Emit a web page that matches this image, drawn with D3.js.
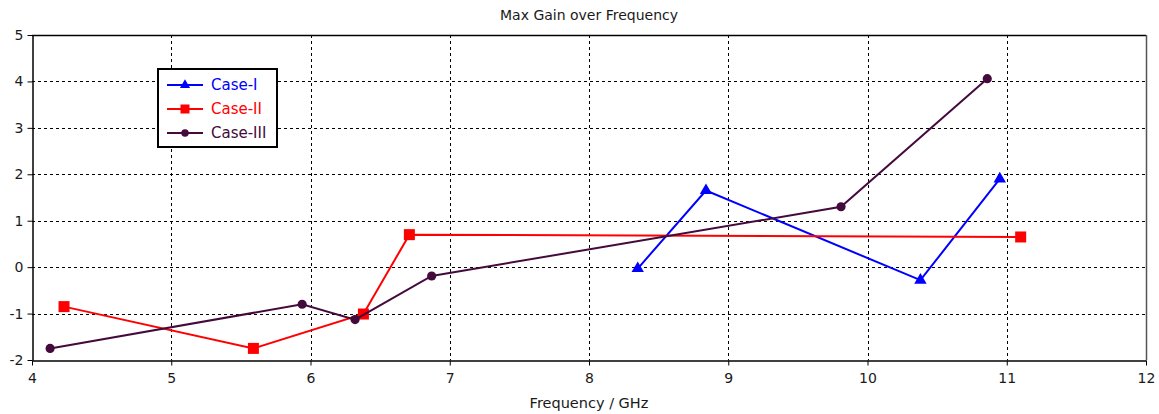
<!DOCTYPE html>
<html>
<head>
<meta charset="utf-8">
<script src="https://cdn.jsdelivr.net/npm/d3@7"></script>
<style>
  html, body { margin: 0; padding: 0; background: #fff; }
  svg { display: block; font-family: "DejaVu Sans", Verdana, sans-serif; }
</style>
</head>
<body>
<svg id="chart" width="1159" height="414"></svg>
<script>
(function() {
  'use strict';

  // Data
  var xTicks = [4, 5, 6, 7, 8, 9, 10, 11, 12];
  var yTicks = [-2, -1, 0, 1, 2, 3, 4, 5];

  var caseIFreq = [8.35, 8.84, 10.38, 10.95];
  var caseIGain = [-0.03, 1.65, -0.28, 1.90];

  var caseIIFreq = [4.23, 5.59, 6.38, 6.71, 11.10];
  var caseIIGain = [-0.85, -1.75, -1.01, 0.70, 0.65];

  var caseIIIFreq = [4.13, 5.94, 6.32, 6.87, 9.81, 10.86];
  var caseIIIGain = [-1.75, -0.80, -1.13, -0.19, 1.30, 4.06];

  var seriesNames = ["Case-I", "Case-II", "Case-III"];
  var seriesColors = ["#0000ff", "#ff0000", "#440a3c"];
  var seriesMarkers = ["triangle", "square", "circle"];

  function zip(xs, ys) {
    return xs.map(function(x, i) { return { x: x, y: ys[i] }; });
  }

  var series = [
    zip(caseIFreq, caseIGain),
    zip(caseIIFreq, caseIIGain),
    zip(caseIIIFreq, caseIIIGain)
  ];

  var margin = { left: 32, top: 35, right: 13, bottom: 54 };
  var width = 1159, height = 414;

  var svg = d3.select("#chart");

  var x = d3.scaleLinear()
    .domain([4, 12])
    .range([margin.left, width - margin.right]);
  var y = d3.scaleLinear()
    .domain([-2, 5])
    .range([height - margin.bottom, margin.top]);

  // grid
  var grid = svg.append("g").attr("class", "grid");
  grid.selectAll("line.vx")
    .data(xTicks.slice(1, -1))
    .enter().append("line")
    .attr("x1", function(d) { return Math.round(x(d)) + 0.5; })
    .attr("x2", function(d) { return Math.round(x(d)) + 0.5; })
    .attr("y1", y(5))
    .attr("y2", y(-2))
    .attr("stroke", "#000")
    .attr("stroke-dasharray", "3,3");
  grid.selectAll("line.hy")
    .data(yTicks.slice(1, -1))
    .enter().append("line")
    .attr("y1", function(d) { return Math.round(y(d)) + 0.5; })
    .attr("y2", function(d) { return Math.round(y(d)) + 0.5; })
    .attr("x1", x(4))
    .attr("x2", x(12))
    .attr("stroke", "#000")
    .attr("stroke-dasharray", "3,3");

  // axes (plain hyphen for negatives, like the original)
  var fmt = function(d) { return String(d); };
  var xAxis = d3.axisBottom(x).tickValues(xTicks).tickSizeInner(5).tickSizeOuter(0)
    .tickFormat(fmt);
  var yAxis = d3.axisLeft(y).tickValues(yTicks).tickSizeInner(5).tickSizeOuter(0)
    .tickFormat(fmt);

  var gx = svg.append("g")
    .attr("transform", "translate(0," + (Math.round(y(-2)) + 0.5) + ")")
    .call(xAxis);
  var gy = svg.append("g")
    .attr("transform", "translate(" + (Math.round(x(4)) + 0.5) + ",0)")
    .call(yAxis);

  [gx, gy].forEach(function(g) {
    g.selectAll("path.domain").attr("stroke", "#000").attr("stroke-width", 1.5);
    g.selectAll(".tick line").attr("stroke", "#000");
    g.selectAll(".tick text")
      .attr("fill", "#1a1a1a")
      .style("font-size", "14px")
      .style("font-family", "'DejaVu Sans', Verdana, sans-serif");
  });
  gx.selectAll(".tick text").attr("dy", "1.05em");
  gy.selectAll(".tick text").attr("x", -9);

  // top and right frame
  svg.append("line")
    .attr("x1", x(4)).attr("x2", x(12))
    .attr("y1", Math.round(y(5)) + 0.5).attr("y2", Math.round(y(5)) + 0.5)
    .attr("stroke", "#000").attr("stroke-width", 1.5);
  svg.append("line")
    .attr("x1", Math.round(x(12)) + 0.5).attr("x2", Math.round(x(12)) + 0.5)
    .attr("y1", y(5)).attr("y2", y(-2))
    .attr("stroke", "#555").attr("stroke-width", 1.5);

  // marker drawing
  function drawMarker(sel, kind, size, color) {
    if (kind === "triangle") {
      sel.append("path")
        .attr("d", d3.symbol().type(d3.symbolTriangle).size(size * size * 0.55)())
        .attr("fill", color);
    } else if (kind === "square") {
      sel.append("rect")
        .attr("x", -size / 2).attr("y", -size / 2)
        .attr("width", size).attr("height", size)
        .attr("fill", color);
    } else {
      sel.append("circle")
        .attr("r", size / 2.4)
        .attr("fill", color);
    }
  }

  var line = d3.line()
    .x(function(d) { return x(d.x); })
    .y(function(d) { return y(d.y); });

  series.forEach(function(pts, i) {
    var g = svg.append("g").attr("class", "series");
    g.append("path")
      .datum(pts)
      .attr("d", line)
      .attr("fill", "none")
      .attr("stroke", seriesColors[i])
      .attr("stroke-width", 2);
    g.selectAll("g.pt")
      .data(pts)
      .enter().append("g")
      .attr("transform", function(d) { return "translate(" + x(d.x) + "," + y(d.y) + ")"; })
      .each(function() {
        drawMarker(d3.select(this), seriesMarkers[i], 11, seriesColors[i]);
      });
  });

  // legend
  var legend = svg.append("g").attr("transform", "translate(158,69)");
  legend.append("rect")
    .attr("width", 119).attr("height", 78)
    .attr("fill", "#fff")
    .attr("stroke", "#000")
    .attr("stroke-width", 2);
  seriesNames.forEach(function(name, i) {
    var row = legend.append("g").attr("transform", "translate(0," + (16 + i * 24) + ")");
    row.append("line")
      .attr("x1", 9).attr("x2", 45)
      .attr("stroke", seriesColors[i])
      .attr("stroke-width", 2);
    var m = row.append("g").attr("transform", "translate(27,0)");
    drawMarker(m, seriesMarkers[i], 9, seriesColors[i]);
    row.append("text")
      .attr("x", 53).attr("dy", "0.35em")
      .attr("fill", seriesColors[i])
      .style("font-size", "15px")
      .text(name);
  });

  // titles
  svg.append("text")
    .attr("x", (x(4) + x(12)) / 2).attr("y", 20)
    .attr("text-anchor", "middle")
    .attr("fill", "#1a1a1a")
    .style("font-size", "14px")
    .text("Max Gain over Frequency");
  svg.append("text")
    .attr("x", (x(4) + x(12)) / 2).attr("y", 408)
    .attr("text-anchor", "middle")
    .attr("fill", "#1a1a1a")
    .style("font-size", "14.5px")
    .text("Frequency / GHz");
}());
</script>
</body>
</html>
